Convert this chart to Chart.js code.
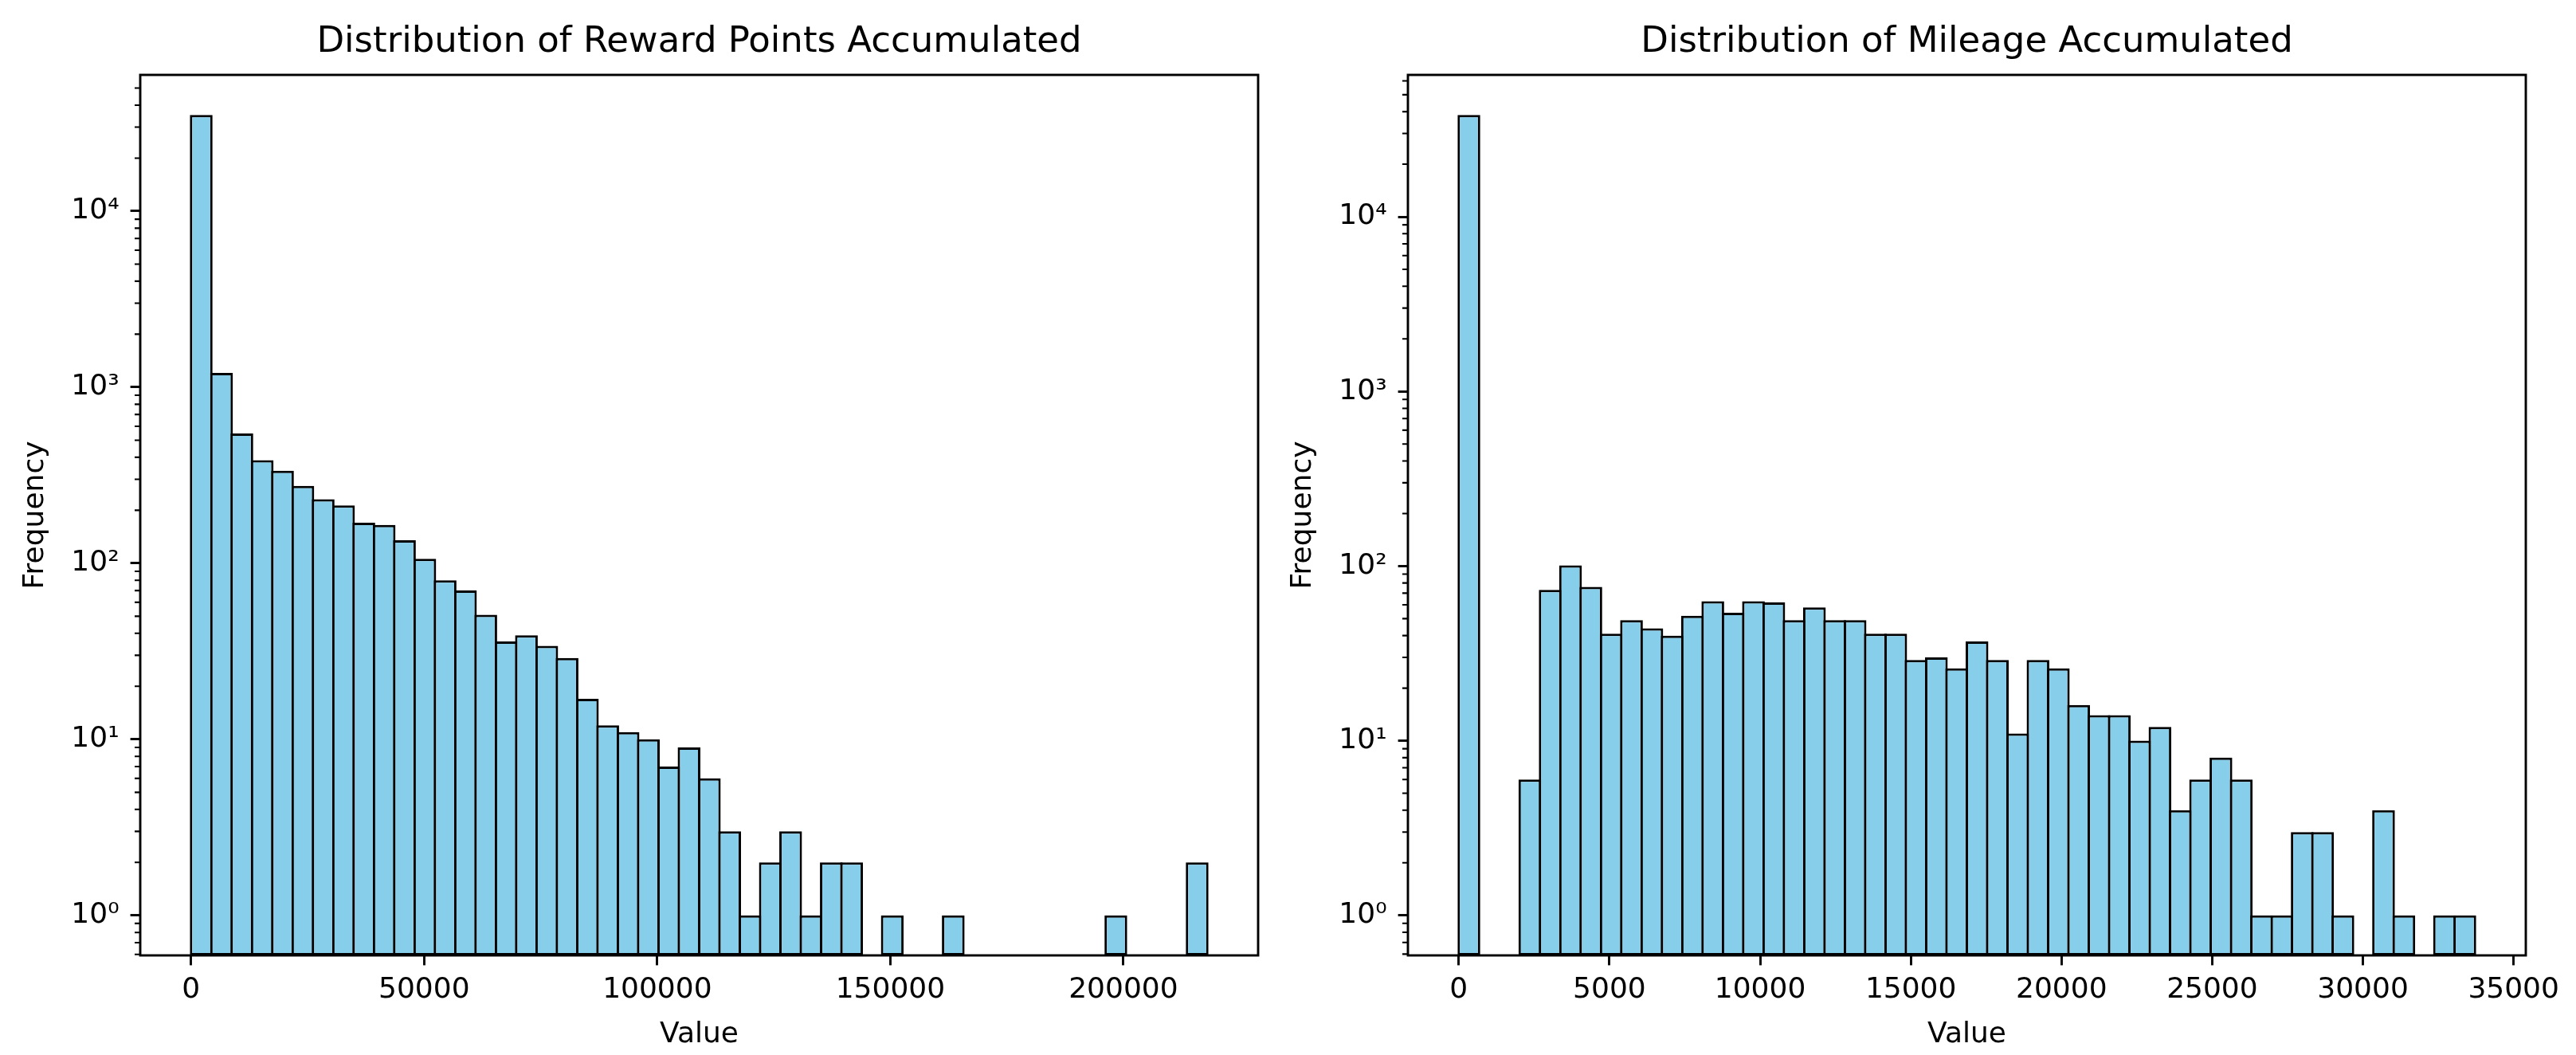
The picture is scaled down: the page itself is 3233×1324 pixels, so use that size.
<!DOCTYPE html>
<html>
<head>
<meta charset="utf-8">
<script src="https://cdn.jsdelivr.net/npm/chart.js@4.4.1/dist/chart.umd.min.js"></script>
<style>
  html, body { margin: 0; padding: 0; background: #ffffff; overflow: hidden; }
  #wrap { position: relative; width: 3233px; height: 1324px; background: #ffffff; }
  canvas { position: absolute; top: 0; }
</style>
</head>
<body>
<div id="wrap">
  <canvas id="c1" width="1591" height="1324" style="left:0px;width:1591px;height:1324px"></canvas>
  <canvas id="c2" width="1642" height="1324" style="left:1591px;width:1642px;height:1324px"></canvas>
</div>
<script>
// ---------------- data ----------------
const rewardTitle = 'Distribution of Reward Points Accumulated';
const mileageTitle = 'Distribution of Mileage Accumulated';
const xAxisLabel = 'Value';
const yAxisLabel = 'Frequency';

// histogram range (min, max of the data) – 50 equal bins
const rewardRange = [0, 218000];
const mileageRange = [0, 33720];

// counts per bin
const rewardCounts = [
  35200, 1205, 546, 385, 335, 275, 231, 213, 170, 165,
  135, 106, 80, 70, 51, 36, 39, 34, 29, 17,
  12, 11, 10, 7, 9, 6, 3, 1, 2, 3,
  1, 2, 2, 0, 1, 0, 0, 1, 0, 0,
  0, 0, 0, 0, 0, 1, 0, 0, 0, 2
];
const mileageCounts = [
  38300, 0, 0, 6, 73, 101, 76, 41, 49, 44,
  40, 52, 63, 54, 63, 62, 49, 58, 49, 49,
  41, 41, 29, 30, 26, 37, 29, 11, 29, 26,
  16, 14, 14, 10, 12, 4, 6, 8, 6, 1,
  1, 3, 3, 1, 0, 4, 1, 0, 1, 1
];

const rewardXTicks = [0, 50000, 100000, 150000, 200000];
const mileageXTicks = [0, 5000, 10000, 15000, 20000, 25000, 30000, 35000];
const yTickValues = [1, 10, 100, 1000, 10000];
const yTickLabels = ['10\u2070', '10\u00B9', '10\u00B2', '10\u00B3', '10\u2074'];

// ---------------- styling ----------------
const FONT = 'DejaVu Sans';
Chart.defaults.font.family = FONT;
Chart.defaults.color = '#000000';

const LINE_W = 2.9;
const MAJOR_TICK = 12.4;
const MINOR_TICK = 7;

const framePlugin = {
  id: 'frameAndMinor',
  afterDatasetsDraw(chart) {
    const { ctx, chartArea: a } = chart;
    const y = chart.scales.y;
    ctx.save();
    ctx.strokeStyle = '#000000';
    ctx.lineWidth = 2.1;
    ctx.beginPath();
    const lo = Math.floor(Math.log10(y.min));
    const hi = Math.ceil(Math.log10(y.max));
    for (let e = lo; e <= hi; e++) {
      for (let m = 2; m <= 9; m++) {
        const v = m * Math.pow(10, e);
        if (v < y.min || v > y.max) continue;
        const py = y.getPixelForValue(v);
        ctx.moveTo(a.left - MINOR_TICK, py);
        ctx.lineTo(a.left, py);
      }
    }
    ctx.stroke();
    ctx.lineWidth = LINE_W;
    ctx.strokeRect(a.left, a.top, a.right - a.left, a.bottom - a.top);
    ctx.restore();
  }
};

function binCenters(range, n) {
  const w = (range[1] - range[0]) / n;
  const out = [];
  for (let i = 0; i < n; i++) out.push(range[0] + w * (i + 0.5));
  return out;
}

function makeHist(canvasId, title, counts, range, xTicks, padRight) {
  const centers = binCenters(range, counts.length);
  const points = counts.map((c, i) => ({ x: centers[i], y: c })).filter(p => p.y > 0);
  const span = range[1] - range[0];
  const maxCount = Math.max(...counts);
  const logMax = Math.log10(maxCount);
  const yMin = Math.pow(10, -0.05 * logMax);
  const yMax = Math.pow(10, 1.05 * logMax);

  return new Chart(document.getElementById(canvasId), {
    type: 'bar',
    data: {
      datasets: [{
        data: points,
        backgroundColor: '#87CEEB',
        borderColor: '#000000',
        borderWidth: 3.0,
        borderSkipped: false,
        barPercentage: 1.118,
        categoryPercentage: 1.0,
        grouped: false
      }]
    },
    options: {
      responsive: false,
      animation: false,
      devicePixelRatio: 1,
      events: [],
      layout: { padding: { left: 0, right: padRight, top: 0, bottom: 0 } },
      plugins: {
        legend: { display: false },
        tooltip: { enabled: false },
        title: {
          display: true,
          text: title,
          color: '#000000',
          fullSize: false,
          font: { family: FONT, size: 45, weight: 'normal', lineHeight: 1.2 },
          padding: { top: 26.5, bottom: 13.5 }
        }
      },
      scales: {
        x: {
          type: 'linear',
          bounds: 'data',
          offset: false,
          min: range[0] - 0.05 * span,
          max: range[1] + 0.05 * span,
          afterBuildTicks: (s) => { s.ticks = xTicks.map(v => ({ value: v })); },
          afterFit: (s) => { s.height = 125; },
          border: { display: false },
          grid: {
            display: true, offset: false, drawOnChartArea: false, drawTicks: true,
            tickLength: MAJOR_TICK, tickWidth: LINE_W, tickColor: '#000000'
          },
          ticks: {
            autoSkip: false, maxRotation: 0, minRotation: 0, padding: 10,
            color: '#000000',
            font: { family: FONT, size: 36 },
            callback: (v) => String(v)
          },
          title: {
            display: true, text: xAxisLabel, color: '#000000',
            font: { family: FONT, size: 36, lineHeight: 1.2 },
            padding: { top: 0, bottom: 4 }
          }
        },
        y: {
          type: 'logarithmic',
          min: yMin,
          max: yMax,
          afterBuildTicks: (s) => { s.ticks = yTickValues.map(v => ({ value: v })); },
          afterFit: (s) => { s.width = 176; },
          border: { display: false },
          grid: {
            display: true, drawOnChartArea: false, drawTicks: true,
            tickLength: MAJOR_TICK, tickWidth: LINE_W, tickColor: '#000000'
          },
          ticks: {
            autoSkip: false, padding: 14, color: '#000000',
            font: { family: FONT, size: 36 },
            callback: (v) => {
              const i = yTickValues.indexOf(v);
              return i >= 0 ? yTickLabels[i] : '';
            }
          },
          title: {
            display: true, text: yAxisLabel, color: '#000000',
            font: { family: FONT, size: 36, lineHeight: 1.2 },
            padding: { top: 23.4, bottom: 0 }
          }
        }
      }
    },
    plugins: [framePlugin]
  });
}

makeHist('c1', rewardTitle, rewardCounts, rewardRange, rewardXTicks, 12);
makeHist('c2', mileageTitle, mileageCounts, mileageRange, mileageXTicks, 63);
</script>
</body>
</html>
